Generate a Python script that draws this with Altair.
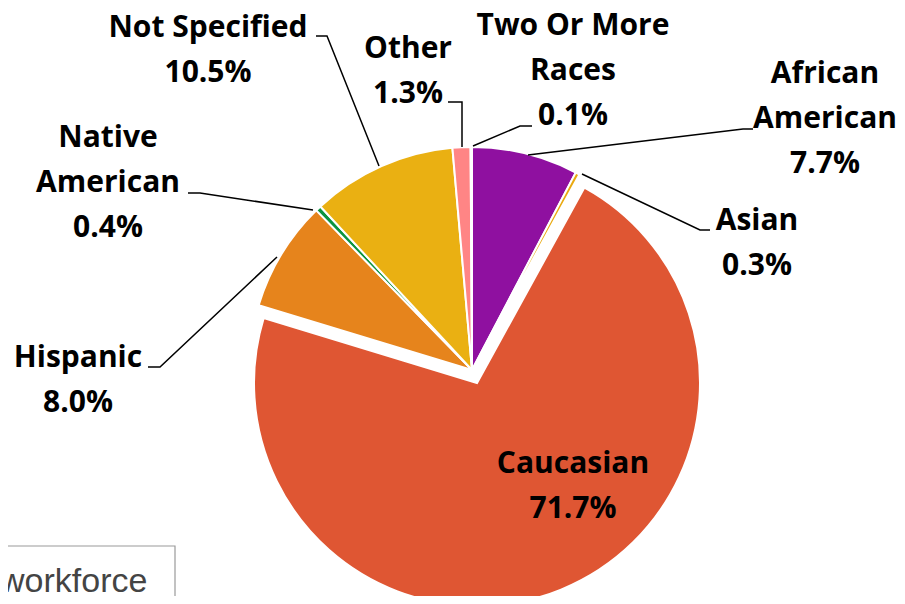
import math
import altair as alt
import pandas as pd

# ---- data ----
categories = ["African American", "Asian", "Caucasian", "Hispanic",
              "Native American", "Not Specified", "Other", "Two Or More Races"]
values = [7.7, 0.3, 71.7, 8.0, 0.4, 10.5, 1.3, 0.1]
colors = ["#8F10A0", "#E9A90F", "#DF5633", "#E6841C",
          "#0B9340", "#EAB012", "#FF8585", "#BFC4DE"]
label_lines = [["African", "American"], ["Asian"], ["Caucasian"], ["Hispanic"],
               ["Native", "American"], ["Not Specified"], ["Other"],
               ["Two Or More", "Races"]]

# ---- layout (page pixel coordinates) ----
M = 8  # page margin
W, H = 889, 588
CX, CY, R = 472, 370, 223
EXPLODE = ("Caucasian", 5, 13)
label_pos = {  # centre x, first baseline y
    "African American": (825, 83),
    "Asian": (757, 230),
    "Caucasian": (573, 473),
    "Hispanic": (78, 367),
    "Native American": (108, 147),
    "Not Specified": (208, 37),
    "Other": (408, 58),
    "Two Or More Races": (573, 35),
}
leaders = {
    "African American": [(753, 129), (743, 129), (528, 155)],
    "Asian": [(710, 230), (700, 230), (582, 174)],
    "Hispanic": [(148, 367), (160, 367), (277, 257)],
    "Native American": [(188, 193), (200, 193), (313, 210)],
    "Not Specified": [(316, 36), (327, 36), (379, 166)],
    "Other": [(448, 102), (462, 102), (462, 147)],
    "Two Or More Races": [(532, 126), (520, 126), (473, 146)],
}

pie_df = pd.DataFrame({"cat": categories, "val": values,
                       "ord": list(range(len(categories)))})

color_scale = alt.Scale(domain=categories, range=colors)
theta_scale = alt.Scale(domain=[0, 100], range=[0, 2 * math.pi])

base = (alt.Chart(pie_df)
        .transform_window(cum="sum(val)", sort=[alt.SortField("ord")])
        .transform_calculate(start="datum.cum - datum.val"))

arc_enc = dict(
    theta=alt.Theta("start:Q", scale=theta_scale),
    theta2="cum:Q",
    color=alt.Color("cat:N", scale=color_scale, legend=None),
    x=alt.value(CX - M),
    y=alt.value(CY - M),
)

pie_main = (base.transform_filter(alt.datum.cat != EXPLODE[0])
            .mark_arc(radius=R, stroke="white", strokeWidth=2)
            .encode(**arc_enc))
pie_expl = (base.transform_filter(alt.datum.cat == EXPLODE[0])
            .mark_arc(radius=R, stroke="white", strokeWidth=2,
                      xOffset=EXPLODE[1], yOffset=EXPLODE[2])
            .encode(**arc_enc))

xs = alt.Scale(domain=[0, W], range=[0, W], nice=False, zero=False)
ys = alt.Scale(domain=[0, H], range=[0, H], nice=False, zero=False)

rows = []
for c, v, lines in zip(categories, values, label_lines):
    lx, ly = label_pos[c]
    rows.append({"cat": c, "x": lx - M, "y": ly - M,
                 "txt": "\n".join(lines + [f"{v:.1f}%"])})
lab_df = pd.DataFrame(rows)

labels = alt.Chart(lab_df).mark_text(
    font="Open Sans", fontWeight="bold", fontSize=30, lineBreak="\n",
    lineHeight=45, align="center", baseline="alphabetic", color="black"
).encode(x=alt.X("x:Q", scale=xs, axis=None),
         y=alt.Y("y:Q", scale=ys, axis=None),
         text="txt:N")

lrows = []
for c, pts in leaders.items():
    for i, (px, py) in enumerate(pts):
        lrows.append({"cat": c, "i": i, "x": px - M, "y": py - M})
lead_df = pd.DataFrame(lrows)
lead = alt.Chart(lead_df).mark_line(color="black", strokeWidth=1.5).encode(
    x=alt.X("x:Q", scale=xs, axis=None),
    y=alt.Y("y:Q", scale=ys, axis=None),
    detail="cat:N", order="i:Q")

# cropped caption box at the bottom-left
box_df = pd.DataFrame({"x": [-12], "x2": [175 - M], "y": [546 - M], "y2": [H + 20],
                       "t": ["workforce"], "tx": [0 - M], "ty": [592 - M]})
box = alt.Chart(box_df).mark_rect(fill="white", stroke="#9a9a9a", strokeWidth=1.2).encode(
    x=alt.X("x:Q", scale=xs, axis=None), x2="x2:Q",
    y=alt.Y("y:Q", scale=ys, axis=None), y2="y2:Q")
box_txt = alt.Chart(box_df).mark_text(
    font="Liberation Sans", fontSize=34, align="left", baseline="alphabetic",
    color="#444444").encode(
    x=alt.X("tx:Q", scale=xs, axis=None),
    y=alt.Y("ty:Q", scale=ys, axis=None), text="t:N")

chart = (alt.layer(pie_main, pie_expl, lead, labels, box, box_txt)
         .properties(width=W, height=H, padding=0, background="white",
                     autosize=alt.AutoSizeParams(type="none"))
         .configure_view(strokeWidth=0, stroke="transparent"))

chart.save("out.html", embed_options={"renderer": "svg", "actions": False})
